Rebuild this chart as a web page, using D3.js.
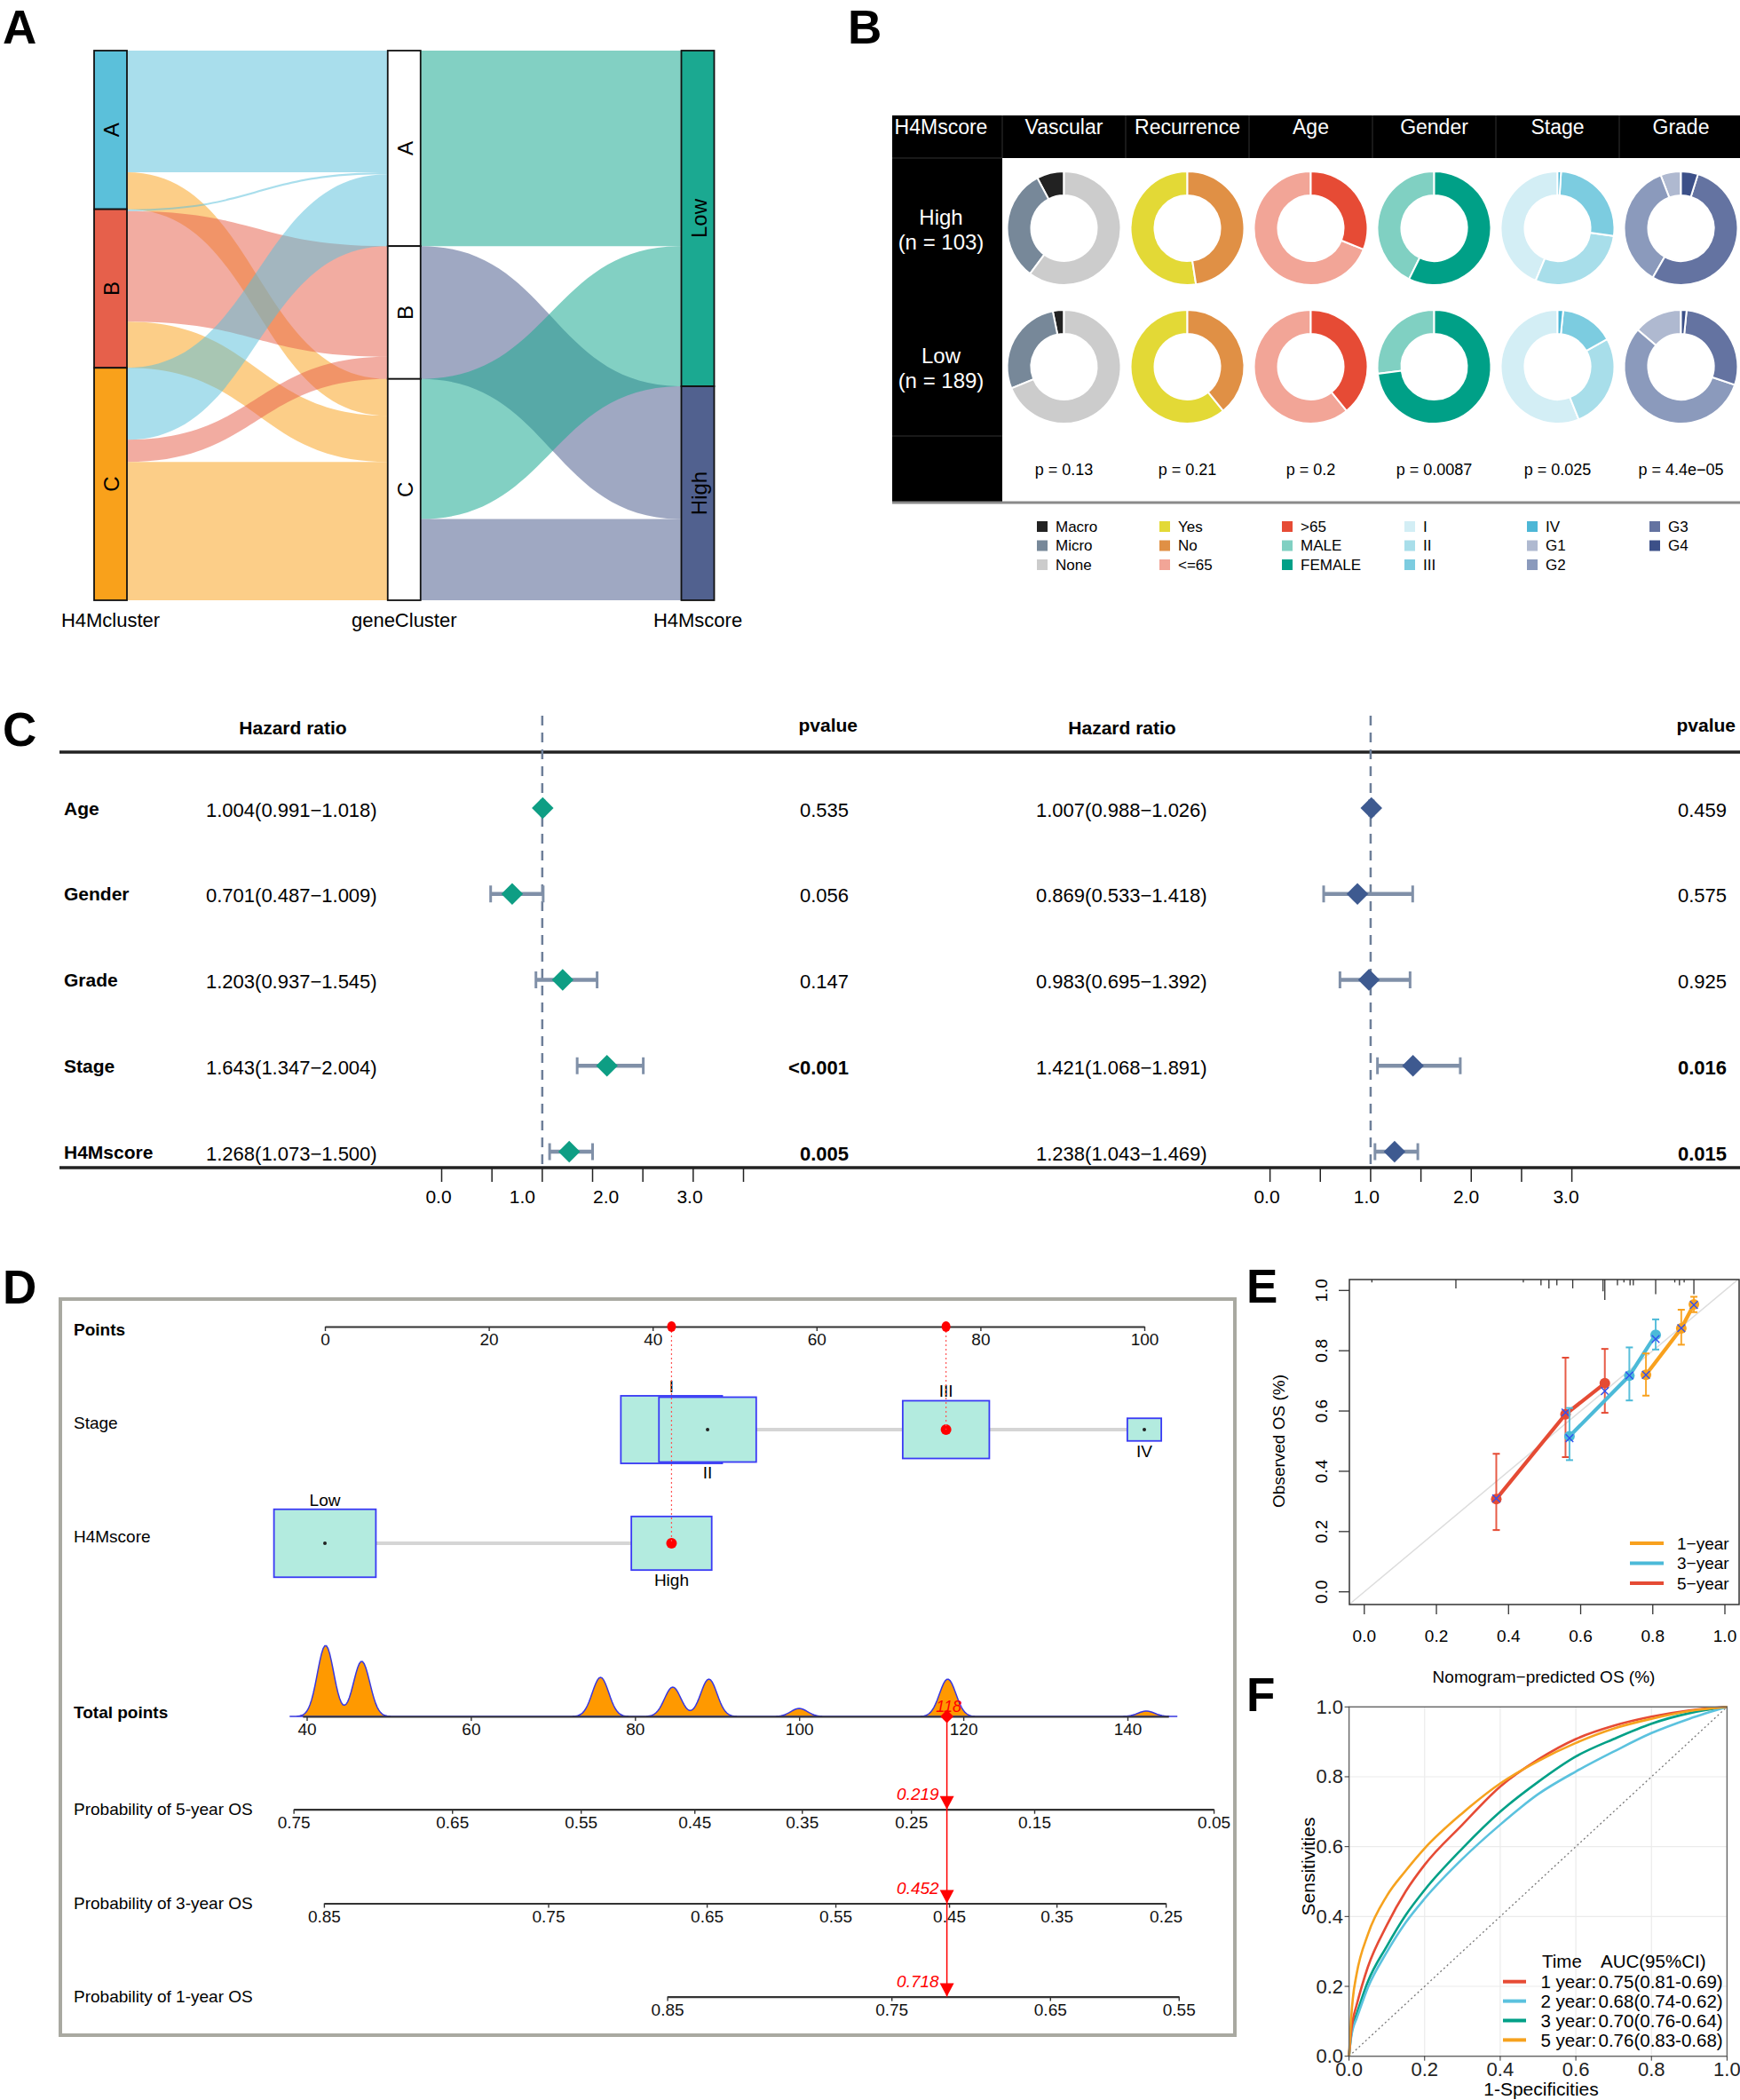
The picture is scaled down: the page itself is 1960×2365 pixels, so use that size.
<!DOCTYPE html>
<html>
<head>
<meta charset="utf-8">
<title>H4Mscore figure</title>
<script src="https://cdn.jsdelivr.net/npm/d3@7"></script>
<style>
  body { margin: 0; background: #fff; }
  svg { display: block; }
  text { font-family: 'Liberation Sans', Arial, Helvetica, sans-serif; }
</style>
</head>
<body>
<div id="figure"></div>
<script>
/*************/
/* DATA      */
/*************/

// A: alluvial, counts
const clusterLevels = ["A", "B", "C"];
const scoreLevels = ["Low", "High"];
const axisNames = ["H4Mcluster", "geneCluster", "H4Mscore"];
const flowsClusterGene = [
  ["A", "A", 66], ["A", "C", 20],
  ["B", "A", 1], ["B", "B", 60], ["B", "C", 25],
  ["C", "A", 39], ["C", "B", 12], ["C", "C", 75]
];
const flowsGeneScore = [
  ["A", "Low", 106], ["B", "High", 72], ["C", "Low", 76], ["C", "High", 44]
];

// B: donuts (counts, High n=103 / Low n=189)
const donutVars = ["Vascular", "Recurrence", "Age", "Gender", "Stage", "Grade"];
const groupNames = ["High", "Low"];
const groupLabels = [["High", "(n = 103)"], ["Low", "(n = 189)"]];
const vascularLevels = ["Macro", "Micro", "None"];
const vascularHigh = [8, 33, 62], vascularLow = [6, 53, 130];
const recurrenceLevels = ["Yes", "No"];
const recurrenceHigh = [54, 49], recurrenceLow = [115, 74];
const ageLevels = ["<=65", ">65"];
const ageHigh = [71, 32], ageLow = [115, 74];
const genderLevels = ["MALE", "FEMALE"];
const genderHigh = [44, 59], genderLow = [51, 138];
const stageLevels = ["I", "II", "III", "IV"];
const stageHigh = [45, 30, 27, 1], stageLow = [106, 51, 29, 3];
const gradeLevels = ["G1", "G2", "G3", "G4"];
const gradeHigh = [6, 37, 55, 5], gradeLow = [26, 106, 54, 3];
const donutP = ["p = 0.13", "p = 0.21", "p = 0.2", "p = 0.0087", "p = 0.025", "p = 4.4e\u221205"];

// C: cox regression
const coxVars = ["Age", "Gender", "Grade", "Stage", "H4Mscore"];
const uniHR = [1.004, 0.701, 1.203, 1.643, 1.268];
const uniLow = [0.991, 0.487, 0.937, 1.347, 1.073];
const uniHigh = [1.018, 1.009, 1.545, 2.004, 1.500];
const uniP = ["0.535", "0.056", "0.147", "<0.001", "0.005"];
const multiHR = [1.007, 0.869, 0.983, 1.421, 1.238];
const multiLow = [0.988, 0.533, 0.695, 1.068, 1.043];
const multiHigh = [1.026, 1.418, 1.392, 1.891, 1.469];
const multiP = ["0.459", "0.575", "0.925", "0.016", "0.015"];
const hrTicks = [0, 0.5, 1, 1.5, 2, 2.5, 3];
const hrTickLabels = ["0.0", "1.0", "2.0", "3.0"];

// D: nomogram
const pointTicks = [0, 20, 40, 60, 80, 100];
const stagePoints = [42.3, 46.7, 75.8, 100];
const stageFreq = [89, 82, 65, 10];
const scorePoints = [0, 42.3];
const scoreFreq = [90, 56];
const selectedStage = "III", selectedScore = "High";
const comboCountLow = [40, 31, 22, 4.5];   // Low + stage I..IV
const comboCountHigh = [16.5, 21, 21, 3];  // High + stage I..IV
const totalTicks = [40, 60, 80, 100, 120, 140];
const selectedTotal = 118;
const survLabels = ["Probability of 5-year OS", "Probability of 3-year OS", "Probability of 1-year OS"];
const survBeta = 0.0209;
const survIntercept = [-2.0483, -2.6968, -3.571];
const survTicks = [
  [0.75, 0.65, 0.55, 0.45, 0.35, 0.25, 0.15, 0.05],
  [0.85, 0.75, 0.65, 0.55, 0.45, 0.35, 0.25],
  [0.85, 0.75, 0.65, 0.55]
];
const survReadout = ["0.219", "0.452", "0.718"];

// E: calibration
const calNames = ["1\u2212year", "3\u2212year", "5\u2212year"];
const cal1Pred = [0.781, 0.879, 0.914], cal1Obs = [0.720, 0.874, 0.954], cal1Lo = [0.651, 0.820, 0.928], cal1Hi = [0.791, 0.936, 0.979], cal1Corr = [0.72, 0.875, 0.952];
const cal3Pred = [0.569, 0.735, 0.808], cal3Obs = [0.516, 0.717, 0.853], cal3Lo = [0.437, 0.635, 0.804], cal3Hi = [0.61, 0.811, 0.904], cal3Corr = [0.51, 0.718, 0.839];
const cal5Pred = [0.366, 0.558, 0.667], cal5Obs = [0.308, 0.589, 0.692], cal5Lo = [0.205, 0.447, 0.594], cal5Hi = [0.458, 0.777, 0.806], cal5Corr = [0.31, 0.595, 0.666];
const rugPred = [0.021, 0.254, 0.441, 0.490, 0.512, 0.534, 0.578, 0.662, 0.667, 0.702, 0.720, 0.737, 0.746, 0.808, 0.861, 0.874, 0.887, 0.914];
const rugN = [1, 3, 1, 2, 3, 2, 3, 4, 7, 2, 1, 2, 2, 5, 1, 2, 1, 5];
const unitTicks = [0, 0.2, 0.4, 0.6, 0.8, 1];

// F: time-dependent ROC
const rocNames = ["1 year:", "2 year:", "3 year:", "5 year:"];
const rocAUC = ["0.75(0.81-0.69)", "0.68(0.74-0.62)", "0.70(0.76-0.64)", "0.76(0.83-0.68)"];
const rocFPR = [0, 0.005, 0.01, 0.02, 0.05, 0.1, 0.15, 0.2, 0.3, 0.4, 0.5, 0.6, 0.7, 0.8, 0.9, 1];
const roc1 = [0, 0.065, 0.103, 0.146, 0.256, 0.375, 0.472, 0.548, 0.663, 0.772, 0.849, 0.908, 0.946, 0.972, 0.990, 1];
const roc2 = [0, 0.050, 0.078, 0.108, 0.197, 0.298, 0.383, 0.451, 0.565, 0.663, 0.750, 0.815, 0.872, 0.925, 0.966, 1];
const roc3 = [0, 0.055, 0.086, 0.120, 0.214, 0.315, 0.404, 0.476, 0.595, 0.700, 0.785, 0.858, 0.908, 0.952, 0.982, 1];
const roc5 = [0, 0.100, 0.165, 0.235, 0.349, 0.459, 0.531, 0.595, 0.696, 0.781, 0.845, 0.897, 0.938, 0.966, 0.988, 1];

/****************/
/* SVG ELEMENTS */
/****************/
const FONT = "'Liberation Sans', Arial, Helvetica, sans-serif";
const svg = d3.select("#figure").append("svg")
  .attr("width", 1960).attr("height", 2365)
  .style("background-color", "#ffffff");

// panel letters
[["A", 3, 49], ["B", 955, 49], ["C", 3, 840], ["D", 3, 1468], ["E", 1404, 1467], ["F", 1404, 1927]]
  .forEach(([t, x, y]) => svg.append("text").attr("x", x).attr("y", y).text(t)
    .style("font-size", "53px").style("font-weight", "bold"));

/***********/
/* PANEL A */
/***********/
const gA = svg.append("g");
const colorCluster = d3.scaleOrdinal(clusterLevels, ["#5BC0DA", "#E6604B", "#F9A11B"]);
const colorScore = d3.scaleOrdinal(scoreLevels, ["#1BA991", "#51618F"]);
const totalA = d3.sum(flowsClusterGene, d => d[2]);
const yA = d3.scaleLinear().domain([0, totalA]).range([57, 676]);
const stratX = d3.scalePoint().domain(axisNames).range([124.5, 786]);
const stratW = 37;

function layoutFlows(flows, srcLv, tgtLv) {
  const rows = flows.map(([s, t, n]) => ({ s, t, n }));
  const srcTot = d3.rollup(rows, v => d3.sum(v, d => d.n), d => d.s);
  const tgtTot = d3.rollup(rows, v => d3.sum(v, d => d.n), d => d.t);
  const stackNodes = (lv, tot) => {
    let acc = 0;
    return lv.map(l => { const n = { key: l, y0: acc, y1: acc + (tot.get(l) || 0) }; acc = n.y1; return n; });
  };
  const srcNodes = stackNodes(srcLv, srcTot), tgtNodes = stackNodes(tgtLv, tgtTot);
  const so = new Map(srcNodes.map(d => [d.key, d.y0]));
  const to = new Map(tgtNodes.map(d => [d.key, d.y0]));
  rows.slice().sort((a, b) => srcLv.indexOf(a.s) - srcLv.indexOf(b.s) || tgtLv.indexOf(a.t) - tgtLv.indexOf(b.t))
    .forEach(d => { d.s0 = so.get(d.s); d.s1 = d.s0 + d.n; so.set(d.s, d.s1); });
  rows.slice().sort((a, b) => tgtLv.indexOf(a.t) - tgtLv.indexOf(b.t) || srcLv.indexOf(a.s) - srcLv.indexOf(b.s))
    .forEach(d => { d.t0 = to.get(d.t); d.t1 = d.t0 + d.n; to.set(d.t, d.t1); });
  return { rows, srcNodes, tgtNodes };
}

function ribbon(x0, x1, a0, a1, b0, b1) {
  const xm = (x0 + x1) / 2, p = d3.path();
  p.moveTo(x0, a0); p.bezierCurveTo(xm, a0, xm, b0, x1, b0);
  p.lineTo(x1, b1); p.bezierCurveTo(xm, b1, xm, a1, x0, a1); p.closePath();
  return p.toString();
}

const L1 = layoutFlows(flowsClusterGene, clusterLevels, clusterLevels);
const L2 = layoutFlows(flowsGeneScore, clusterLevels, scoreLevels);

function drawRibbons(L, fromAxis, toAxis, color, op) {
  const x0 = stratX(fromAxis) + stratW / 2, x1 = stratX(toAxis) - stratW / 2;
  gA.append("g").selectAll("path").data(L.rows).join("path")
    .attr("d", d => ribbon(x0, x1, yA(d.s0), yA(d.s1), yA(d.t0), yA(d.t1)))
    .attr("fill", d => color(d.t)).attr("fill-opacity", op).attr("stroke", "none");
}
drawRibbons(L1, axisNames[0], axisNames[1], colorCluster, 0.52);
drawRibbons(L2, axisNames[1], axisNames[2], colorScore, 0.55);

function drawStrata(nodes, axis, fill) {
  const g = gA.append("g");
  g.selectAll("rect").data(nodes).join("rect")
    .attr("x", stratX(axis) - stratW / 2).attr("width", stratW)
    .attr("y", d => yA(d.y0)).attr("height", d => yA(d.y1) - yA(d.y0))
    .attr("fill", fill).attr("stroke", "#111").attr("stroke-width", 1.8);
  g.selectAll("text").data(nodes).join("text")
    .attr("transform", d => `translate(${stratX(axis) + 1},${yA((d.y0 + d.y1) / 2)}) rotate(-90)`)
    .attr("text-anchor", "middle").attr("dominant-baseline", "central")
    .style("font-size", "24px").text(d => d.key);
}
drawStrata(L1.srcNodes, axisNames[0], d => colorCluster(d.key));
drawStrata(L1.tgtNodes, axisNames[1], "#ffffff");
drawStrata(L2.tgtNodes, axisNames[2], d => colorScore(d.key));

gA.selectAll(".axisname").data(axisNames).join("text")
  .attr("x", d => stratX(d)).attr("y", 706).attr("text-anchor", "middle")
  .style("font-size", "22px").text(d => d);

/***********/
/* PANEL B */
/***********/
const gB = svg.append("g");
const donutHigh = [vascularHigh, recurrenceHigh, ageHigh, genderHigh, stageHigh, gradeHigh];
const donutLow = [vascularLow, recurrenceLow, ageLow, genderLow, stageLow, gradeLow];
const donutLevels = [vascularLevels, recurrenceLevels, ageLevels, genderLevels, stageLevels, gradeLevels];
const donutColors = [
  ["#222222", "#778899", "#CCCCCC"],
  ["#E3D936", "#E09045"],
  ["#F2A597", "#E64B35"],
  ["#80D0C2", "#00A087"],
  ["#D3EEF5", "#A8DEEA", "#7CCCE0", "#4DB7D6"],
  ["#AFB9D0", "#8B9ABC", "#6473A1", "#3C5088"]
];
const donutCol = d3.scaleBand().domain(donutVars).range([1129, 1963]);
const donutRow = d3.scalePoint().domain(groupNames).range([257, 413]);

gB.append("rect").attr("x", 1005).attr("y", 130).attr("width", 955).attr("height", 48).attr("fill", "#000");
gB.append("rect").attr("x", 1005).attr("y", 130).attr("width", 124).attr("height", 436).attr("fill", "#000");
gB.selectAll(".sep").data(donutVars).join("line")
  .attr("x1", d => donutCol(d)).attr("x2", d => donutCol(d)).attr("y1", 130).attr("y2", 178)
  .attr("stroke", "#333").attr("stroke-width", 1);
[178, 491].forEach(y => gB.append("line").attr("x1", 1005).attr("x2", 1129).attr("y1", y).attr("y2", y)
  .attr("stroke", "#333").attr("stroke-width", 1));
gB.append("line").attr("x1", 1005).attr("x2", 1960).attr("y1", 566).attr("y2", 566)
  .attr("stroke", "#8a8a8a").attr("stroke-width", 3);

gB.append("text").attr("x", 1060).attr("y", 143).attr("text-anchor", "middle").attr("dominant-baseline", "central")
  .attr("fill", "#fff").style("font-size", "23px").text("H4Mscore");
gB.selectAll(".hdr").data(donutVars).join("text")
  .attr("x", d => donutCol(d) + donutCol.bandwidth() / 2).attr("y", 143)
  .attr("text-anchor", "middle").attr("dominant-baseline", "central")
  .attr("fill", "#fff").style("font-size", "23px").text(d => d);

groupLabels.forEach((lab, i) => {
  const cy = donutRow(groupNames[i]);
  lab.forEach((t, j) => gB.append("text").attr("x", 1060).attr("y", cy - 13 + j * 28)
    .attr("text-anchor", "middle").attr("dominant-baseline", "central")
    .attr("fill", "#fff").style("font-size", "24px").text(t));
});

const pie = d3.pie().sort(null).startAngle(0).endAngle(-2 * Math.PI);
const arc = d3.arc().innerRadius(37).outerRadius(64);
donutVars.forEach((v, i) => {
  const cx = donutCol(v) + donutCol.bandwidth() / 2;
  [donutHigh[i], donutLow[i]].forEach((vals, r) => {
    gB.append("g").attr("transform", `translate(${cx},${donutRow(groupNames[r])})`)
      .selectAll("path").data(pie(vals)).join("path")
      .attr("d", arc).attr("fill", (d, k) => donutColors[i][k])
      .attr("stroke", "#fff").attr("stroke-width", 2);
  });
  gB.append("text").attr("x", cx).attr("y", 529).attr("text-anchor", "middle").attr("dominant-baseline", "central")
    .style("font-size", "18px").text(donutP[i]);
});

// legend, filled column by column
const legendNames = donutLevels.flat();
const legendFill = donutColors.flat();
gB.selectAll(".lg").data(legendNames).join("g")
  .attr("transform", (d, i) => `translate(${1174 + Math.floor(i / 3) * 138},${593 + (i % 3) * 21.5})`)
  .each(function (d, i) {
    const g = d3.select(this);
    g.append("rect").attr("x", -6).attr("y", -6).attr("width", 12).attr("height", 12).attr("fill", legendFill[i]);
    g.append("text").attr("x", 15).attr("y", 0).attr("dominant-baseline", "central").style("font-size", "17px").text(d);
  });

/***********/
/* PANEL C */
/***********/
const hrFmt = d3.format(".3f");
function drawForest(cfg) {
  const g = svg.append("g");
  const x = d3.scaleLinear().domain([0, 3]).range(cfg.range);
  const y = d3.scalePoint().domain(coxVars).range([910, 1297]);
  g.append("text").attr("x", cfg.headX).attr("y", 819).attr("text-anchor", "middle").attr("dominant-baseline", "central")
    .style("font-size", "21px").style("font-weight", "bold").text("Hazard ratio");
  g.append("text").attr("x", cfg.pX).attr("y", 816).attr("text-anchor", "end").attr("dominant-baseline", "central")
    .style("font-size", "21px").style("font-weight", "bold").text("pvalue");
  [847, 1315].forEach(yy => g.append("line").attr("x1", cfg.lineX[0]).attr("x2", cfg.lineX[1])
    .attr("y1", yy).attr("y2", yy).attr("stroke", "#222").attr("stroke-width", 3.5));
  g.append("line").attr("x1", x(1)).attr("x2", x(1)).attr("y1", 806).attr("y2", 1315)
    .attr("stroke", "#6E7F99").attr("stroke-width", 2.5).attr("stroke-dasharray", "11,8");
  coxVars.forEach((v, i) => {
    const yy = y(v);
    if (cfg.showVars) g.append("text").attr("x", 72).attr("y", yy).attr("dominant-baseline", "central")
      .style("font-size", "21px").style("font-weight", "bold").text(v);
    g.append("text").attr("x", cfg.textX).attr("y", yy + 2).attr("dominant-baseline", "central")
      .style("font-size", "22px").text(`${hrFmt(cfg.hr[i])}(${hrFmt(cfg.lo[i])}\u2212${hrFmt(cfg.hi[i])})`);
    const p = cfg.p[i];
    const sig = p.startsWith("<") || +p < 0.05;
    g.append("text").attr("x", cfg.pX - 10).attr("y", yy + 2).attr("text-anchor", "end").attr("dominant-baseline", "central")
      .style("font-size", "22px").style("font-weight", sig ? "bold" : "normal").text(p);
    g.append("line").attr("x1", x(cfg.lo[i])).attr("x2", x(cfg.hi[i])).attr("y1", yy).attr("y2", yy)
      .attr("stroke", "#8090A8").attr("stroke-width", 4.5);
    [cfg.lo[i], cfg.hi[i]].forEach(c => g.append("line").attr("x1", x(c)).attr("x2", x(c))
      .attr("y1", yy - 9.5).attr("y2", yy + 9.5).attr("stroke", "#8090A8").attr("stroke-width", 3));
    g.append("path").attr("d", d3.symbol(d3.symbolSquare, 300)())
      .attr("transform", `translate(${x(cfg.hr[i])},${yy}) rotate(45)`).attr("fill", cfg.color);
  });
  g.selectAll(".tk").data(hrTicks).join("line")
    .attr("x1", d => x(d)).attr("x2", d => x(d)).attr("y1", 1315).attr("y2", 1331)
    .attr("stroke", "#222").attr("stroke-width", 1.5);
  const lab = d3.scalePoint().domain(hrTickLabels).range(cfg.labelRange);
  g.selectAll(".tl").data(hrTickLabels).join("text")
    .attr("x", d => lab(d)).attr("y", 1347).attr("text-anchor", "middle").attr("dominant-baseline", "central")
    .style("font-size", "21px").text(d => d);
}
drawForest({ hr: uniHR, lo: uniLow, hi: uniHigh, p: uniP, range: [497.5, 837.5], labelRange: [494, 777],
  color: "#0E9E84", textX: 232, pX: 966, headX: 330, lineX: [67, 980], showVars: true });
drawForest({ hr: multiHR, lo: multiLow, hi: multiHigh, p: multiP, range: [1430.6, 1770.6], labelRange: [1427, 1764],
  color: "#3E5A90", textX: 1167, pX: 1955, headX: 1264, lineX: [980, 1960], showVars: false });

/***********/
/* PANEL D */
/***********/
const gD = svg.append("g");
gD.append("rect").attr("x", 68).attr("y", 1463).attr("width", 1323).attr("height", 829)
  .attr("fill", "none").attr("stroke", "#A9A9A1").attr("stroke-width", 4);
const ptsX = d3.scaleLinear().domain([0, 100]).range([366, 1289]);
const totX = d3.scaleLinear().domain([40, 140]).range([345.5, 1270]);

function styleAxis(sel) {
  sel.attr("font-family", FONT).attr("font-size", 19);
  sel.select(".domain").attr("stroke", "#333").attr("stroke-width", 2.2);
  sel.selectAll(".tick line").attr("stroke", "#333").attr("stroke-width", 1.4);
  sel.selectAll(".tick text").attr("fill", "#111");
}
function rowLabel(text, y, bold) {
  gD.append("text").attr("x", 83).attr("y", y).attr("dominant-baseline", "central")
    .style("font-size", "19px").style("font-weight", bold ? "bold" : "normal").text(text);
}

// Points axis
rowLabel("Points", 1497, true);
gD.append("g").attr("transform", "translate(0,1494)")
  .call(d3.axisBottom(ptsX).tickValues(pointTicks).tickSize(5).tickSizeOuter(0)).call(styleAxis);

// variable rows with boxes
const boxK = 12.1;
function drawVarRow(name, levels, pts, freq, y, selected, labelSide) {
  rowLabel(name, y - 8, false);
  gD.append("line").attr("x1", ptsX(d3.min(pts))).attr("x2", ptsX(d3.max(pts))).attr("y1", y).attr("y2", y)
    .attr("stroke", "#D5D5D5").attr("stroke-width", 4);
  levels.forEach((lv, i) => {
    const w = boxK * Math.sqrt(freq[i]), h = w / 1.5, cx = ptsX(pts[i]);
    gD.append("rect").attr("x", cx - w / 2).attr("y", y - h / 2).attr("width", w).attr("height", h)
      .attr("fill", "#B3EBDF").attr("stroke", "#3A3AF5").attr("stroke-width", 1.8);
    const sel = lv === selected;
    gD.append("circle").attr("cx", cx).attr("cy", y).attr("r", sel ? 6 : 2).attr("fill", sel ? "#FF0000" : "#222");
    const above = labelSide[i] === "up";
    gD.append("text").attr("x", cx).attr("y", above ? y - h / 2 - 4 : y + h / 2 + 18)
      .attr("text-anchor", "middle").style("font-size", "19px").text(lv);
  });
}
drawVarRow("Stage", stageLevels, stagePoints, stageFreq, 1610, selectedStage, ["up", "down", "up", "down"]);
drawVarRow("H4Mscore", scoreLevels, scorePoints, scoreFreq, 1738, selectedScore, ["up", "down"]);

// selected points and dotted guides
[[stagePoints[stageLevels.indexOf(selectedStage)], 1610], [scorePoints[scoreLevels.indexOf(selectedScore)], 1738]]
  .forEach(([p, y]) => {
    gD.append("line").attr("x1", ptsX(p)).attr("x2", ptsX(p)).attr("y1", 1494).attr("y2", y)
      .attr("stroke", "#FF5555").attr("stroke-width", 1.2).attr("stroke-dasharray", "2,3");
    gD.append("ellipse").attr("cx", ptsX(p)).attr("cy", 1494).attr("rx", 5).attr("ry", 6).attr("fill", "#FF0000");
  });

// total points distribution
rowLabel("Total points", 1928, true);
const combos = [];
stageLevels.forEach((s, i) => {
  combos.push({ t: scorePoints[0] + stagePoints[i], n: comboCountLow[i] });
  combos.push({ t: scorePoints[1] + stagePoints[i], n: comboCountHigh[i] });
});
const grid = d3.range(38, 146.01, 0.2);
const dens = grid.map(t => ({ t, v: d3.sum(combos, c => c.n * Math.exp(-0.5 * ((t - c.t) / 1.0) ** 2)) }));
const densY = d3.scaleLinear().domain([0, 40]).range([1933, 1853]);
gD.append("path").datum(dens)
  .attr("d", d3.area().x(d => totX(d.t)).y0(1933).y1(d => densY(d.v)))
  .attr("fill", "#FF9900").attr("stroke", "#3838E0").attr("stroke-width", 1.5);
const totAxisScale = totX.copy().domain([39.5, 145]).range([totX(39.5), totX(145)]);
gD.append("g").attr("transform", "translate(0,1933)")
  .call(d3.axisBottom(totAxisScale).tickValues(totalTicks).tickSize(5).tickSizeOuter(0)).call(styleAxis);

// probability axes
const cll = p => Math.log(-Math.log(p));
const survY = [2037.7, 2143.5, 2248.6];
survLabels.forEach((lab, i) => {
  rowLabel(lab, survY[i], false);
  const a = survIntercept[i];
  const s = d3.scaleLinear().domain([a + survBeta * 40, a + survBeta * 140]).range([totX(40), totX(140)]);
  const tk = survTicks[i];
  const c0 = cll(tk[0]), c1 = cll(tk[tk.length - 1]);
  const sAxis = s.copy().domain([c0, c1]).range([s(c0), s(c1)]);
  gD.append("g").attr("transform", `translate(0,${survY[i]})`)
    .call(d3.axisBottom(sAxis).tickValues(tk.map(cll)).tickFormat((c, j) => d3.format(".2f")(tk[j]))
      .tickSize(5).tickSizeOuter(0)).call(styleAxis);
});

// red readout for the example patient
const xt = totX(selectedTotal);
gD.append("line").attr("x1", xt).attr("x2", xt).attr("y1", 1933).attr("y2", survY[2])
  .attr("stroke", "#FF0000").attr("stroke-width", 1.5);
gD.append("path").attr("d", d3.symbol(d3.symbolSquare, 110)())
  .attr("transform", `translate(${xt},1933) rotate(45)`).attr("fill", "#FF0000");
gD.append("text").attr("x", xt + 2).attr("y", 1928).attr("text-anchor", "middle")
  .style("font-size", "18px").style("font-style", "italic").attr("fill", "#FF0000").text(selectedTotal);
survY.forEach((y, i) => {
  gD.append("path").attr("d", `M${xt - 8},${y - 15}L${xt + 8},${y - 15}L${xt},${y}Z`).attr("fill", "#FF0000");
  gD.append("text").attr("x", xt - 9).attr("y", y - 11).attr("text-anchor", "end")
    .style("font-size", "19px").style("font-style", "italic").attr("fill", "#FF0000").text(survReadout[i]);
});

/***********/
/* PANEL E */
/***********/
const gE = svg.append("g");
const xE = d3.scaleLinear().domain([0, 1]).range([1536.8, 1943]);
const yE = d3.scaleLinear().domain([0, 1]).range([1792.7, 1453.3]);
const calColor = ["#F8A11E", "#4CBAD8", "#E54B34"];
gE.append("clipPath").attr("id", "clipE").append("rect")
  .attr("x", 1520).attr("y", 1441).attr("width", 439).attr("height", 366);
gE.append("line").attr("clip-path", "url(#clipE)")
  .attr("x1", xE(-0.1)).attr("y1", yE(-0.1)).attr("x2", xE(1.1)).attr("y2", yE(1.1))
  .attr("stroke", "#DDDDDD").attr("stroke-width", 1.5);

// rug of predicted values
gE.selectAll(".rug").data(rugPred).join("line")
  .attr("x1", d => xE(d)).attr("x2", d => xE(d)).attr("y1", 1441).attr("y2", (d, i) => 1441 + rugN[i] * 3.3)
  .attr("stroke", "#333").attr("stroke-width", 1.3);

const calSets = [
  [cal1Pred, cal1Obs, cal1Lo, cal1Hi, cal1Corr],
  [cal3Pred, cal3Obs, cal3Lo, cal3Hi, cal3Corr],
  [cal5Pred, cal5Obs, cal5Lo, cal5Hi, cal5Corr]
];
// draw 5-year first so 1-year sits on top
[2, 1, 0].forEach(k => {
  const [pr, ob, lo, hi, co] = calSets[k];
  const col = calColor[k];
  const g = gE.append("g");
  pr.forEach((p, i) => {
    g.append("line").attr("x1", xE(p)).attr("x2", xE(p)).attr("y1", yE(lo[i])).attr("y2", yE(hi[i]))
      .attr("stroke", col).attr("stroke-width", 2).attr("opacity", 0.9);
    [lo[i], hi[i]].forEach(c => g.append("line").attr("x1", xE(p) - 4).attr("x2", xE(p) + 4)
      .attr("y1", yE(c)).attr("y2", yE(c)).attr("stroke", col).attr("stroke-width", 2));
  });
  g.append("path").datum(pr.map((p, i) => [p, ob[i]]))
    .attr("d", d3.line().x(d => xE(d[0])).y(d => yE(d[1])))
    .attr("fill", "none").attr("stroke", col).attr("stroke-width", 4.2);
  g.selectAll("circle").data(pr).join("circle")
    .attr("cx", d => xE(d)).attr("cy", (d, i) => yE(ob[i])).attr("r", 6).attr("fill", col);
  g.selectAll(".x").data(pr).join("path")
    .attr("d", d3.symbol(d3.symbolTimes, 50)())
    .attr("transform", (d, i) => `translate(${xE(d)},${yE(co[i])})`)
    .attr("fill", "none").attr("stroke", "#3050F0").attr("stroke-width", 1.4);
});

gE.append("rect").attr("x", 1520).attr("y", 1441).attr("width", 439).attr("height", 366)
  .attr("fill", "none").attr("stroke", "#333").attr("stroke-width", 1.5);
gE.selectAll(".xt").data(unitTicks).join("line")
  .attr("x1", d => xE(d)).attr("x2", d => xE(d)).attr("y1", 1807).attr("y2", 1818).attr("stroke", "#333").attr("stroke-width", 1.3);
gE.selectAll(".xl").data(unitTicks).join("text")
  .attr("x", d => xE(d)).attr("y", 1842).attr("text-anchor", "middle").attr("dominant-baseline", "central")
  .style("font-size", "19px").text(d => d3.format(".1f")(d));
gE.selectAll(".yt").data(unitTicks).join("line")
  .attr("x1", 1520).attr("x2", 1508).attr("y1", d => yE(d)).attr("y2", d => yE(d)).attr("stroke", "#333").attr("stroke-width", 1.3);
gE.selectAll(".yl").data(unitTicks).join("text")
  .attr("transform", d => `translate(1488,${yE(d)}) rotate(-90)`).attr("text-anchor", "middle").attr("dominant-baseline", "central")
  .style("font-size", "19px").text(d => d3.format(".1f")(d));
gE.append("text").attr("x", 1739).attr("y", 1888).attr("text-anchor", "middle").attr("dominant-baseline", "central")
  .style("font-size", "19px").text("Nomogram\u2212predicted OS (%)");
gE.append("text").attr("transform", "translate(1440,1623) rotate(-90)").attr("text-anchor", "middle").attr("dominant-baseline", "central")
  .style("font-size", "19px").text("Observed OS (%)");
calNames.forEach((n, i) => {
  const y = 1738 + i * 22.5;
  gE.append("line").attr("x1", 1836).attr("x2", 1874).attr("y1", y).attr("y2", y).attr("stroke", calColor[i]).attr("stroke-width", 4);
  gE.append("text").attr("x", 1889).attr("y", y).attr("dominant-baseline", "central").style("font-size", "19px").text(n);
});

/***********/
/* PANEL F */
/***********/
const gF = svg.append("g");
const xF = d3.scaleLinear().domain([0, 1]).range([1519.6, 1945.4]);
const yF = d3.scaleLinear().domain([0, 1]).range([2315.7, 1922.3]);
const rocColor = ["#E64B35", "#5BC2DE", "#00A087", "#F6A21E"];
gF.selectAll(".gv").data(unitTicks).join("line")
  .attr("x1", d => xF(d)).attr("x2", d => xF(d)).attr("y1", yF(0)).attr("y2", yF(1)).attr("stroke", "#EBEBEB").attr("stroke-width", 1.2);
gF.selectAll(".gh").data(unitTicks).join("line")
  .attr("x1", xF(0)).attr("x2", xF(1)).attr("y1", d => yF(d)).attr("y2", d => yF(d)).attr("stroke", "#EBEBEB").attr("stroke-width", 1.2);
gF.append("line").attr("x1", xF(0)).attr("y1", yF(0)).attr("x2", xF(1)).attr("y2", yF(1))
  .attr("stroke", "#777").attr("stroke-width", 1.3).attr("stroke-dasharray", "2,3");
const rocLine = d3.line().x(d => xF(d[0])).y(d => yF(d[1])).curve(d3.curveMonotoneX);
const rocSets = [roc1, roc2, roc3, roc5];
[2, 1, 0, 3].forEach(k => {
  gF.append("path").datum(rocFPR.map((f, i) => [f, rocSets[k][i]])).attr("d", rocLine)
    .attr("fill", "none").attr("stroke", rocColor[k]).attr("stroke-width", 2.6);
});
gF.append("rect").attr("x", xF(0)).attr("y", yF(1)).attr("width", xF(1) - xF(0)).attr("height", yF(0) - yF(1))
  .attr("fill", "none").attr("stroke", "#666").attr("stroke-width", 1.4);
gF.selectAll(".xt").data(unitTicks).join("line")
  .attr("x1", d => xF(d)).attr("x2", d => xF(d)).attr("y1", yF(0)).attr("y2", yF(0) + 5).attr("stroke", "#333");
gF.selectAll(".yt").data(unitTicks).join("line")
  .attr("x1", xF(0) - 5).attr("x2", xF(0)).attr("y1", d => yF(d)).attr("y2", d => yF(d)).attr("stroke", "#333");
gF.selectAll(".xl").data(unitTicks).join("text")
  .attr("x", d => xF(d)).attr("y", 2330).attr("text-anchor", "middle").attr("dominant-baseline", "central")
  .attr("fill", "#222").style("font-size", "22px").text(d => d3.format(".1f")(d));
gF.selectAll(".yl").data(unitTicks).join("text")
  .attr("x", 1513).attr("y", d => yF(d)).attr("text-anchor", "end").attr("dominant-baseline", "central")
  .attr("fill", "#222").style("font-size", "22px").text(d => d3.format(".1f")(d));
gF.append("text").attr("x", 1736).attr("y", 2352).attr("text-anchor", "middle").attr("dominant-baseline", "central")
  .style("font-size", "21px").text("1-Specificities");
gF.append("text").attr("transform", "translate(1473,2102) rotate(-90)").attr("text-anchor", "middle").attr("dominant-baseline", "central")
  .style("font-size", "21px").text("Sensitivities");
gF.append("text").attr("x", 1737).attr("y", 2208).attr("dominant-baseline", "central").style("font-size", "20.5px").text("Time");
gF.append("text").attr("x", 1803).attr("y", 2208).attr("dominant-baseline", "central").style("font-size", "20.5px").text("AUC(95%CI)");
rocNames.forEach((n, i) => {
  const y = 2231.7 + i * 21.9;
  gF.append("line").attr("x1", 1693).attr("x2", 1719).attr("y1", y).attr("y2", y).attr("stroke", rocColor[i]).attr("stroke-width", 4);
  gF.append("text").attr("x", 1735.5).attr("y", y).attr("dominant-baseline", "central").style("font-size", "20.5px").text(n);
  gF.append("text").attr("x", 1800.5).attr("y", y).attr("dominant-baseline", "central").style("font-size", "20.5px").text(rocAUC[i]);
});
</script>
</body>
</html>
